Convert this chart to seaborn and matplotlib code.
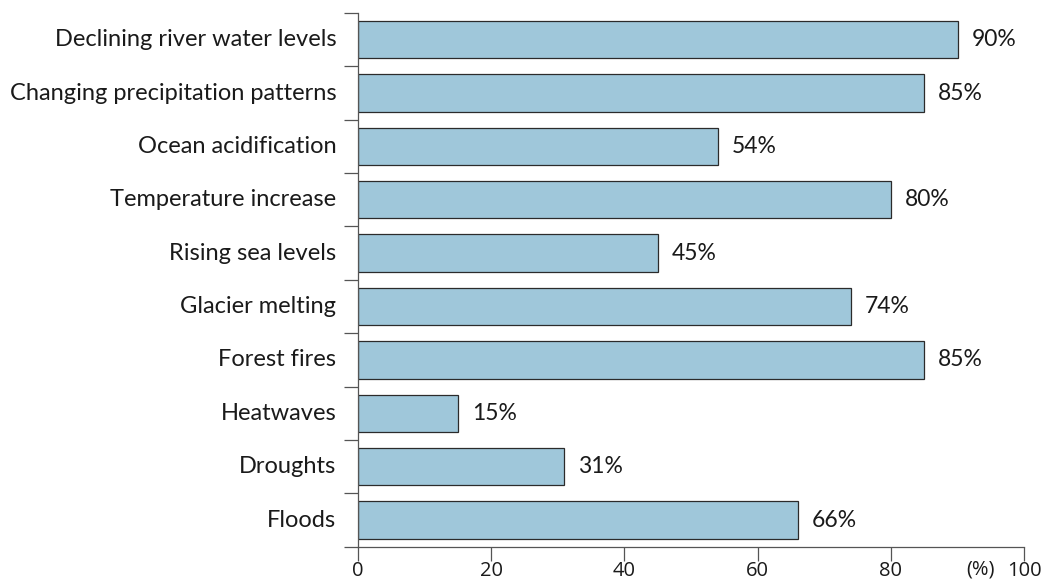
import matplotlib
matplotlib.use("Agg")
import matplotlib.pyplot as plt
import seaborn as sns
import pandas as pd

# Share of respondents reporting each climate-related impact
categories = [
    "Declining river water levels",
    "Changing precipitation patterns",
    "Ocean acidification",
    "Temperature increase",
    "Rising sea levels",
    "Glacier melting",
    "Forest fires",
    "Heatwaves",
    "Droughts",
    "Floods",
]
shares = [90, 85, 54, 80, 45, 74, 85, 15, 31, 66]
x_ticks = [0, 20, 40, 60, 80, 100]
x_tick_labels = ["0", "20", "40", "60", "80", "100"]
unit_label = "(%)"

sns.set_theme(style="ticks")
plt.rcParams["font.family"] = ["Lato", "DejaVu Sans"]

df = pd.DataFrame({"impact": categories, "share": shares})

fig = plt.figure(figsize=(10.45, 5.79), dpi=100)
ax = fig.add_axes([0.3423, 0.0558, 0.6379, 0.9217])

sns.barplot(
    data=df, y="impact", x="share", orient="h", order=categories,
    color="#9fc7da", saturation=1, width=0.7,
    edgecolor="#2b2b2b", linewidth=0.9, ax=ax,
)

ax.set_xlim(0, 100)
ax.set_ylim(len(categories) - 0.5, -0.5)
ax.set_xlabel("")
ax.set_ylabel("")

# value labels at bar ends
for i, v in enumerate(shares):
    ax.text(v + 2.1, i, f"{v}%", va="center", ha="left",
            fontsize=16.5, color="#1a1a1a")

# category names placed by hand; tick marks sit at bar boundaries
ax.set_yticks([i - 0.5 for i in range(len(categories) + 1)])
ax.set_yticklabels([])
ax.tick_params(axis="y", length=10, width=0.9, color="#555555")
for i, name in enumerate(categories):
    ax.text(-0.032, i, name, transform=ax.get_yaxis_transform(),
            ha="right", va="center", fontsize=17, color="#1a1a1a")

ax.set_xticks(x_ticks)
ax.set_xticklabels(x_tick_labels, fontsize=14.5, color="#1a1a1a",
                   family=["Open Sans", "DejaVu Sans"])
ax.tick_params(axis="x", length=10, width=0.9, color="#555555", pad=0)
ax.text(0.955, 3, unit_label, transform=ax.get_xaxis_transform(),
        ha="right", va="bottom", fontsize=14.5, color="#1a1a1a",
        family=["Open Sans", "DejaVu Sans"])
ax.texts[-1].set_transform(
    matplotlib.transforms.blended_transform_factory(ax.transAxes, fig.transFigure))
ax.texts[-1].set_position((0.955, 0.0))

for side in ("top", "right"):
    ax.spines[side].set_visible(False)
for side in ("left", "bottom"):
    ax.spines[side].set_color("#555555")
    ax.spines[side].set_linewidth(0.9)

fig.savefig("out.png", dpi=100, facecolor="white")
